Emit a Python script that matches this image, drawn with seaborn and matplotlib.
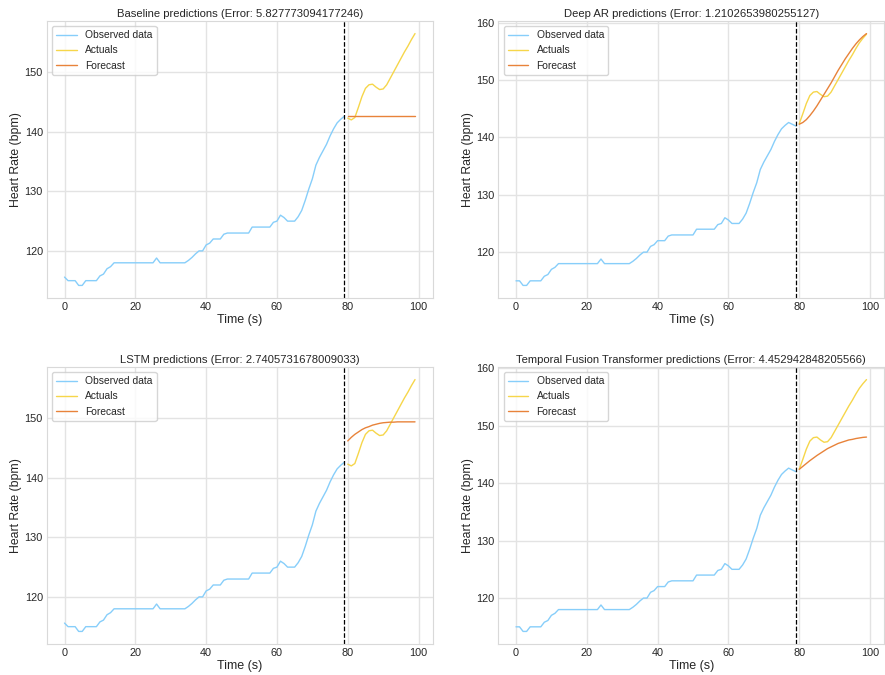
import numpy as np
import pandas as pd
import matplotlib
matplotlib.use("Agg")
import matplotlib.pyplot as plt
import seaborn as sns

# Heart-rate recording (bpm), one sample per second
heart_rate = [
    115.6, 115.0, 115.0, 115.0, 114.2, 114.2, 115.0, 115.0, 115.0, 115.0,
    115.8, 116.1, 117.0, 117.35, 118.0, 118.0, 118.0, 118.0, 118.0, 118.0,
    118.0, 118.0, 118.0, 118.0, 118.0, 118.0, 118.8, 118.0, 118.0, 118.0,
    118.0, 118.0, 118.0, 118.0, 118.0, 118.4, 118.9, 119.5, 120.0, 120.0,
    121.0, 121.3, 122.0, 122.0, 122.0, 122.8, 123.0, 123.0, 123.0, 123.0,
    123.0, 123.0, 123.0, 124.0, 124.0, 124.0, 124.0, 124.0, 124.0, 124.8,
    125.0, 126.0, 125.6, 125.0, 125.0, 125.0, 125.75, 126.8, 128.5, 130.4,
    132.1, 134.4, 135.7, 136.8, 137.9, 139.3, 140.5, 141.5, 142.1, 142.6,
    142.3, 142.0, 142.4, 144.1, 145.9, 147.3, 147.9, 148.0, 147.5, 147.1,
    147.2, 147.9, 149.0, 150.1, 151.2, 152.3, 153.4, 154.4, 155.5, 156.5,
    157.3, 158.0,
]

history_len = 80
horizon = 20

model_titles = [
    "Baseline predictions (Error: 5.827773094177246)",
    "Deep AR predictions (Error: 1.2102653980255127)",
    "LSTM predictions (Error: 2.7405731678009033)",
    "Temporal Fusion Transformer predictions (Error: 4.452942848205566)",
]
# Start index of each model's window within the recording
window_start = [0, 2, 0, 2]

baseline_forecast = [142.6] * horizon
deep_ar_forecast = [142.3, 142.6, 143.1, 143.8, 144.6, 145.5, 146.5, 147.5, 148.5, 149.5,
                    150.6, 151.7, 152.7, 153.7, 154.6, 155.5, 156.3, 157.0, 157.6, 158.1]
lstm_forecast = [146.2, 146.8, 147.3, 147.7, 148.1, 148.4, 148.6, 148.85, 149.0, 149.15,
                 149.25, 149.3, 149.35, 149.35, 149.4, 149.4, 149.4, 149.4, 149.4, 149.4]
tft_forecast = [142.4, 142.9, 143.4, 143.9, 144.35, 144.8, 145.2, 145.6, 146.0, 146.3,
                146.6, 146.9, 147.1, 147.3, 147.5, 147.6, 147.75, 147.85, 147.95, 148.0]
forecasts = [baseline_forecast, deep_ar_forecast, lstm_forecast, tft_forecast]

sns.set_theme(style="whitegrid")
plt.rcParams["font.family"] = ["Liberation Sans", "DejaVu Sans"]
plt.rcParams["axes.edgecolor"] = "#d9d9d9"
plt.rcParams["grid.color"] = "#e3e3e3"

fig, axes = plt.subplots(2, 2, figsize=(8.85, 6.75), dpi=100)
fig.subplots_adjust(left=0.0531, right=0.9989, bottom=0.0459, top=0.9689,
                    wspace=0.171, hspace=0.249)

obs_color = "#87cefa"
act_color = "#f6d64a"
fc_color = "#e8833a"

for ax, title, start, fc in zip(axes.flat, model_titles, window_start, forecasts):
    seg = heart_rate[start:start + history_len + horizon]
    t_obs = np.arange(history_len)
    t_fut = np.arange(history_len, history_len + horizon)
    obs = pd.DataFrame({"t": t_obs, "hr": seg[:history_len]})
    act = pd.DataFrame({"t": t_fut, "hr": seg[history_len:]})
    pred = pd.DataFrame({"t": t_fut, "hr": fc})

    sns.lineplot(data=obs, x="t", y="hr", ax=ax, color=obs_color, lw=1.0, label="Observed data")
    sns.lineplot(data=act, x="t", y="hr", ax=ax, color=act_color, lw=1.0, label="Actuals")
    sns.lineplot(data=pred, x="t", y="hr", ax=ax, color=fc_color, lw=1.0, label="Forecast")
    ax.axvline(history_len - 1, color="black", linestyle="--", lw=0.9)

    ax.set_title(title, fontsize=8.1, pad=3)
    ax.set_xlabel("Time (s)", fontsize=9, labelpad=1)
    ax.set_ylabel("Heart Rate (bpm)", fontsize=8.8, labelpad=1.5)
    ax.set_xticks([0, 20, 40, 60, 80, 100])
    ax.tick_params(labelsize=7.8, length=0, pad=3)
    for s in ax.spines.values():
        s.set_linewidth(0.8)
    ax.legend(loc="upper left", fontsize=7.4, handlelength=2.0, borderpad=0.4,
              labelspacing=0.5)

fig.savefig("out.png", dpi=100)
